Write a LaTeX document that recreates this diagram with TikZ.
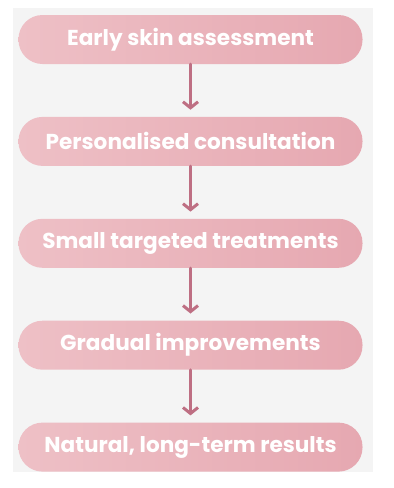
\documentclass[tikz,border=0pt]{standalone}
\usepackage{fontspec}
\setmainfont{Poppins}
\usetikzlibrary{arrows.meta, positioning}
\definecolor{panelgray}{HTML}{F4F4F4}
\definecolor{pinkL}{HTML}{EEC0C6}
\definecolor{pinkR}{HTML}{E6A8B1}
\definecolor{arrowpink}{HTML}{BE6F83}

\begin{document}
\begin{tikzpicture}[
        x=1pt, y=-1pt,
        stage/.style={rounded corners=24pt, left color=pinkL, right color=pinkR,
            minimum width=344pt, minimum height=49pt, inner sep=0pt,
            text=white, font=\fontsize{21.6}{25}\selectfont\bfseries},
        flow/.style={draw=arrowpink, line width=3pt, line cap=round,
            -{Straight Barb[length=6pt, width=15pt]}, shorten >=7pt},
        node distance=52.5pt]

    \useasboundingbox (0,0) rectangle (394,488);
    \fill[panelgray] (13,8) rectangle (373,472);

    \node[stage] (S1) at (190.5,39.5) {Early skin assessment};
    \node[stage, below=of S1] (S2) {Personalised consultation};
    \node[stage, below=of S2] (S3) {Small targeted treatments};
    \node[stage, below=of S3] (S4) {Gradual improvements};
    \node[stage, below=of S4] (S5) {Natural, long-term results};
    \draw[flow] (S1) -- (S2);
    \draw[flow] (S2) -- (S3);
    \draw[flow] (S3) -- (S4);
    \draw[flow] (S4) -- (S5);

\end{tikzpicture}
\end{document}
